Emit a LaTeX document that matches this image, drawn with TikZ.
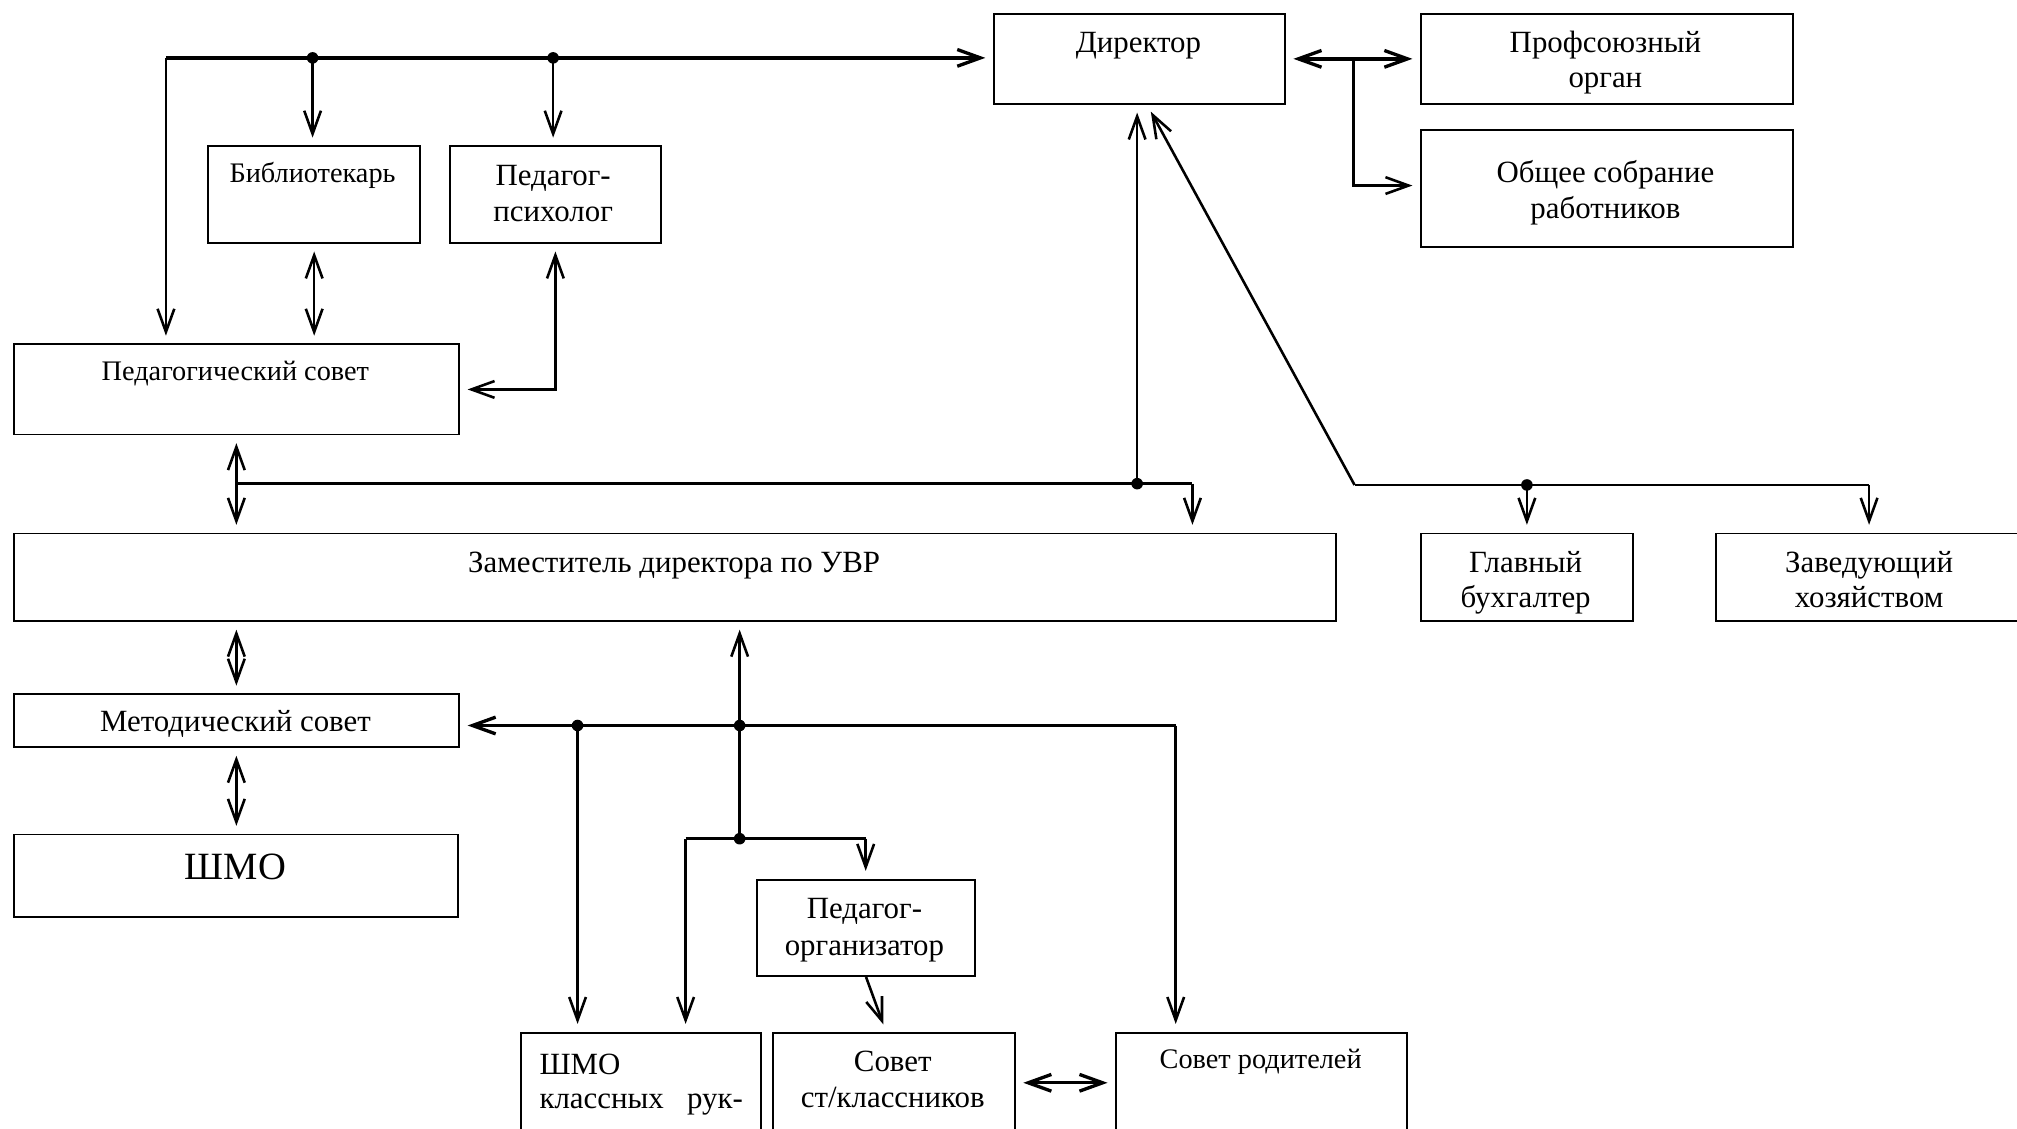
\documentclass[tikz,border=0pt]{standalone}
\usepackage{fontspec}
\setmainfont{Liberation Serif}
\usetikzlibrary{arrows.meta}
\begin{document}
\begin{tikzpicture}[x=0.5pt,y=-0.5pt,
  box/.style={draw,line width=0.75pt,inner sep=0pt,anchor=north west},
  txt/.style={inner sep=0pt,anchor=base,font=\fontsize{12}{14}\selectfont},
  stxt/.style={txt,font=\fontsize{11}{13}\selectfont},
  ln/.style={line width=1pt},
  arr/.style={ln,-{Straight Barb[length=9pt,width=6.5pt]},shorten >=3pt},
  arrb/.style={ln,{Straight Barb[length=9pt,width=6.5pt]}-{Straight Barb[length=9pt,width=6.5pt]},shorten >=3pt,shorten <=3pt},
  dot/.style={circle,fill,inner sep=0pt,minimum size=4.5pt}]
\useasboundingbox (0,0) rectangle (1568,877);
% boxes
\node[box,minimum width=113pt,minimum height=35pt] (dir) at (772,10) {};
\node[box,minimum width=144.5pt,minimum height=35pt] (prof) at (1104,10) {};
\node[box,minimum width=144.5pt,minimum height=45.5pt] (obs) at (1104,100) {};
\node[box,minimum width=82.5pt,minimum height=37.5pt] (lib) at (161,113) {};
\node[box,minimum width=82pt,minimum height=37.5pt] (psy) at (349,113) {};
\node[box,minimum width=173pt,minimum height=35pt] (psov) at (10,267) {};
\node[box,minimum width=514pt,minimum height=34pt] (zam) at (10,414) {};
\node[box,minimum width=82.5pt,minimum height=34pt] (gb) at (1104,414) {};
\node[box,minimum width=120pt,minimum height=34pt] (zh) at (1333,414) {};
\node[box,minimum width=173pt,minimum height=20.5pt] (met) at (10,539) {};
\node[box,minimum width=172.5pt,minimum height=32pt] (shmo) at (10,648) {};
\node[box,minimum width=84.5pt,minimum height=37.5pt] (porg) at (588,683) {};
\node[box,minimum width=93.5pt,minimum height=39pt] (shkr) at (404,802) {};
\node[box,minimum width=94pt,minimum height=39pt] (sstk) at (600,802) {};
\node[box,minimum width=113pt,minimum height=39pt] (srod) at (867,802) {};
% texts
\node[txt] (t1) at (885,41) {Директор};
\node[txt] (t2a) at (1248,41) {Профсоюзный};
\node[txt] (t2b) at (1248,68) {орган};
\node[txt] (t3a) at (1248,142) {Общее собрание};
\node[txt] (t3b) at (1248,170) {работников};
\node[stxt] (t4) at (243,142) {Библиотекарь};
\node[txt] (t5a) at (430,144) {Педагог-};
\node[txt] (t5b) at (430,172) {психолог};
\node[stxt] (t6) at (183,296) {Педагогический совет};
\node[txt] (t7) at (524,445) {Заместитель директора по УВР};
\node[txt] (t8a) at (1186,445) {Главный};
\node[txt] (t8b) at (1186,472) {бухгалтер};
\node[txt] (t9a) at (1453,445) {Заведующий};
\node[txt] (t9b) at (1453,472) {хозяйством};
\node[txt] (t10) at (183,569) {Методический совет};
\node[txt,font=\fontsize{15}{18}\selectfont] (t11) at (183,684) {ШМО};
\node[txt] (t12a) at (672,714) {Педагог-};
\node[txt] (t12b) at (672,743) {организатор};
\node[txt,anchor=base west] (t13a) at (419,835) {ШМО};
\node[txt,anchor=base west] (t13b) at (419,862) {\makebox[79pt][s]{классных\hfill рук-}};
\node[txt] (t14a) at (694,833) {Совет};
\node[txt] (t14b) at (694,861) {ст/классников};
\node[stxt] (t15) at (980,831) {Совет родителей};
% junctions
\coordinate (tl) at (129,45);
\node[dot] (j1) at (243,45) {};
\node[dot] (j2) at (430,45) {};
\coordinate (b1) at (183,376);
\node[dot] (j3) at (884,376) {};
\coordinate (b2) at (927,376);
\coordinate (b3) at (1053,377);
\node[dot] (j4) at (1187,377) {};
\coordinate (b4) at (1453,377);
\coordinate (b5) at (1052,45);
\node[dot] (j5) at (449,564) {};
\node[dot] (j6) at (575,564) {};
\coordinate (mb) at (914,564);
\node[dot] (j7) at (575,652) {};
\coordinate (c1) at (533,652);
\coordinate (c2) at (673,652);
% connectors
\draw[ln,line width=1.3pt] (tl) -- (j2.center);
\draw[arr,line width=1.3pt] (j2.center) -- (tl -| dir.west);
\draw[arr] (tl) -- (tl |- psov.north);
\draw[arr] (j1.center) -- (j1 |- lib.north);
\draw[arr] (j2.center) -- (j2 |- psy.north);
\draw[arrb] (lib.south) -- (lib.south |- psov.north);
\draw[arrb] (psy.south) |- (psov.east);
\draw[arrb] (psov.south) -- (psov.south |- zam.north);
\draw[ln] (b1) -- (b2);
\draw[arr] (b2) -- (b2 |- zam.north);
\draw[arr] (j3.center) -- (j3 |- dir.south);
\draw[arr] (b3) -- ([xshift=3pt]dir.south);
\draw[ln] (b3) -- (b4);
\draw[arr] (j4.center) -- (j4 |- gb.north);
\draw[arr] (b4) -- (b4 |- zh.north);
\draw[arrb,line width=1.3pt] (dir.east) -- (prof.west);
\draw[arr] (b5) |- ([yshift=1pt]obs.west);
\draw[arrb] (met.north) -- (met.north |- zam.south);
\draw[arrb] (met.south) -- (met.south |- shmo.north);
\draw[arr,line width=1.3pt] (mb) -- (met.east |- mb);
\draw[arr] (mb) -- (mb |- srod.north);
\draw[arr] (j5.center) -- (j5 |- shkr.north);
\draw[arr] (j6.center) -- (j6 |- zam.south);
\draw[ln] (j6.center) -- (j7.center);
\draw[ln] (c1) -- (c2);
\draw[arr] (c1) -- (c1 |- shkr.north);
\draw[arr] (c2) -- (c2 |- porg.north);
\draw[arr] (porg.south) -- ([xshift=-3pt]sstk.north);
\draw[arrb,line width=1.3pt] (sstk.east) -- (srod.west);
\end{tikzpicture}
\end{document}
